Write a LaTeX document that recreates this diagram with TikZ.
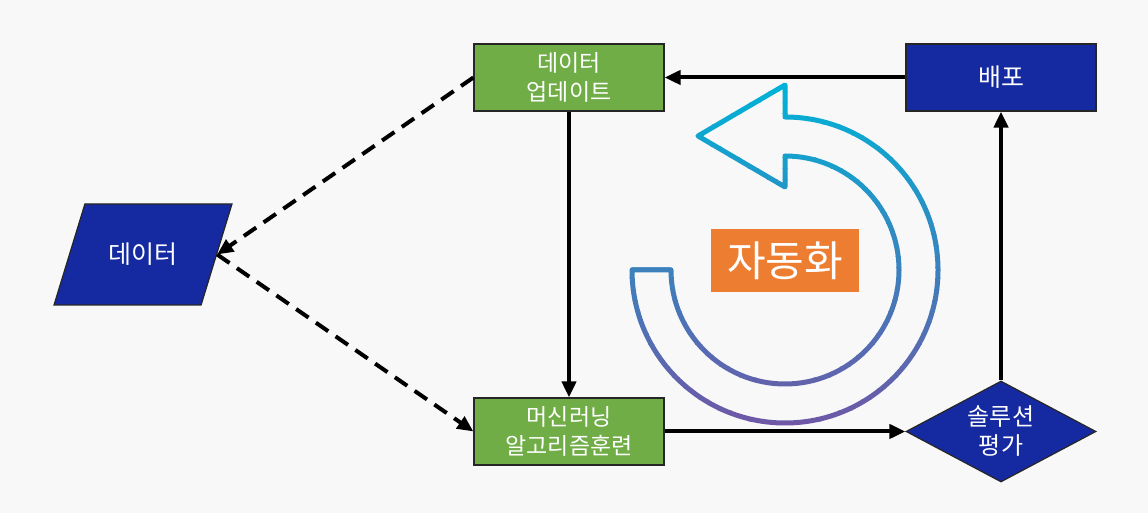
\documentclass[tikz,border=0pt]{standalone}
\usepackage{fontspec}
\setmainfont{Noto Sans CJK KR}
\usetikzlibrary{shapes.geometric,arrows.meta}
\definecolor{bggray}{RGB}{248,248,248}
\definecolor{boxgreen}{RGB}{112,173,71}
\definecolor{boxblue}{RGB}{21,41,160}
\definecolor{autoorange}{RGB}{237,125,49}
\definecolor{cyclecyan}{RGB}{0,178,215}
\definecolor{cyclepurple}{RGB}{112,86,166}
\newcommand{\cycleoutline}{(632,243) arc (180:450:153) -- (785,428) -- (698,377)
	-- (785,326) -- (785,357) arc (90:-180:114) -- cycle}

\begin{document}
\begin{tikzpicture}[x=1pt, y=1pt,
	stepbox/.style={draw=black!85, line width=1.2pt, minimum width=190pt, minimum height=67pt,
		inner sep=0pt, align=center, text=white, font=\fontsize{23}{29}\selectfont},
	flow/.style={line width=4pt, -{Triangle[length=16pt,width=14pt]}},
	dashflow/.style={flow, dash pattern=on 15pt off 9pt}]
	\useasboundingbox (0,0) rectangle (1148,513);
	\fill [bggray] (0,0) rectangle (1148,513);

	\node [stepbox, fill=boxgreen] (update) at (569,435.5) {데이터\\업데이트};
	\node [stepbox, fill=boxgreen] (train) at (569,81.5) {머신러닝\\알고리즘훈련};
	\node [stepbox, fill=boxblue, font=\fontsize{25}{29}\selectfont] (deploy) at (1001,435.5) {배포};
	\node [stepbox, diamond, aspect=1.88, minimum width=190pt, minimum height=101pt,
		fill=boxblue, font=\fontsize{24}{29}\selectfont] (eval) at (1001,81.5) {솔루션\\평가};
	\node [stepbox, trapezium, trapezium left angle=51, trapezium right angle=129,
		trapezium stretches=true, minimum width=178pt, minimum height=101pt,
		fill=boxblue, font=\fontsize{25}{29}\selectfont] (data) at (143,258.5) {데이터};

	%\draw [cyclecyan, line width=5pt] \cycleoutline;
	\foreach \i in {0,...,31}{
		\pgfmathtruncatemacro{\p}{100-\i*100/31}
		\begin{scope}
			\clip (600,80+11*\i) rectangle (960,91.6+11*\i);
			\draw [cyclepurple!\p!cyclecyan, line width=5pt, line join=round] \cycleoutline;
		\end{scope}
	}
	\node [fill=autoorange, minimum width=148pt, minimum height=63pt, inner sep=0pt,
		text=white, font=\fontsize{42}{48}\selectfont] (auto) at (785,252.5) {자동화};

	\draw [flow] (update) -- (train);
	\draw [flow] (train.east) -- (eval.west);
	\draw [flow] (eval.north) -- (deploy.south);
	\draw [flow] (deploy.west) -- (update.east);
	\draw [dashflow] (update.west) -- (data.east);
	\draw [dashflow] (data.east) -- (train.west);
\end{tikzpicture}
\end{document}
